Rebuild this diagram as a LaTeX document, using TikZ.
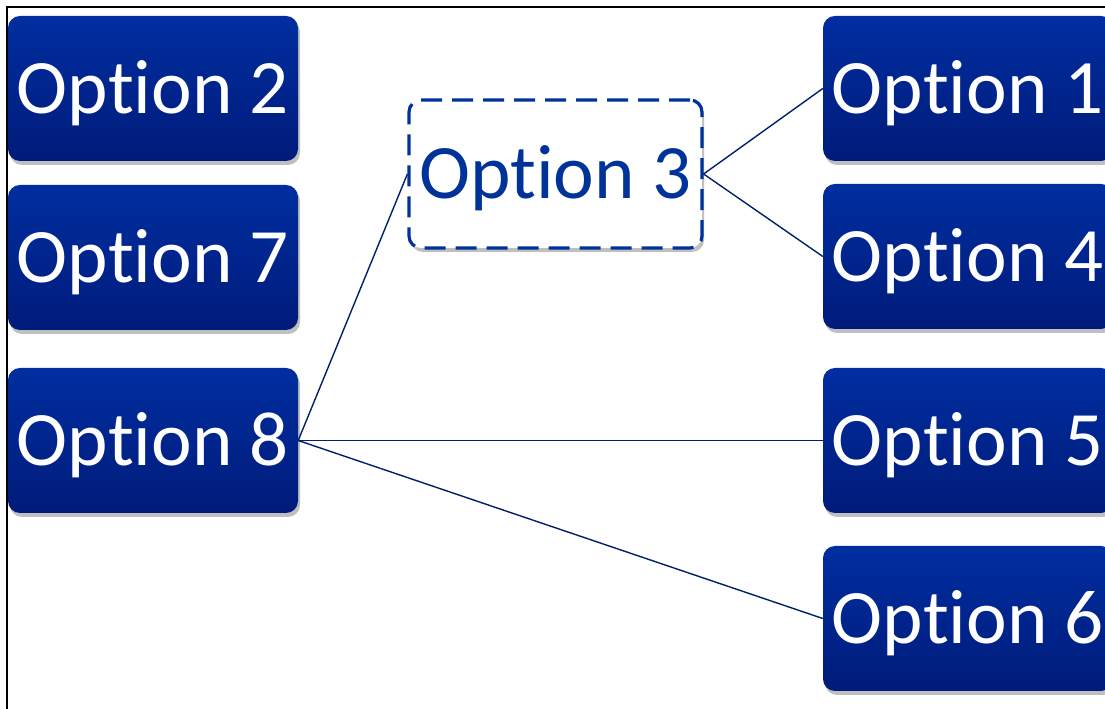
\documentclass[tikz,border=0pt]{standalone}
\usepackage{fontspec}
\setmainfont{Carlito}[RawFeature={-liga;-clig;-dlig}]
\usetikzlibrary{shadows}
\definecolor{boxtop}{RGB}{0,46,160}
\definecolor{boxbottom}{RGB}{0,27,122}
\definecolor{optblue}{RGB}{0,51,153}
\definecolor{linkblue}{RGB}{0,32,110}
\tikzset{
  optbox/.style={rounded corners=12pt, minimum width=290pt, minimum height=145pt,
    inner sep=0pt, text height=50pt, text depth=0pt,
    font=\fontsize{77}{80}\selectfont, text=white,
    top color=boxtop, bottom color=boxbottom, draw=none,
    drop shadow={shadow xshift=2pt, shadow yshift=-4pt, opacity=0.25, fill=black}},
  dashbox/.style={rounded corners=12pt, minimum width=293pt, minimum height=148pt,
    inner sep=0pt, text height=50pt, text depth=0pt,
    font=\fontsize{77}{80}\selectfont, text=optblue,
    fill=white, draw=optblue, line width=3.2pt, dash pattern=on 21pt off 10pt,
    drop shadow={shadow xshift=2pt, shadow yshift=-4pt, opacity=0.25, fill=black}},
  link/.style={draw=linkblue, line width=1.4pt}
}
\begin{document}
\begin{tikzpicture}[x=1pt,y=1pt]
  \useasboundingbox (0,0) rectangle (1105,709);
  \clip (0,0) rectangle (1105,709);
  \fill[white] (0,0) rectangle (1105,709);
  % outer frame
  \draw[line width=2pt] (6.5,-20) -- (6.5,702) -- (1130,702);
  % left column
  \node[optbox] (o2) at (153,620.5) {Option 2};
  \node[optbox] (o7) at (153,451.5) {Option 7};
  \node[optbox] (o8) at (153,268.5) {Option 8};
  % right column
  \node[optbox] (o1) at (968,620.5) {Option 1};
  \node[optbox] (o4) at (968,452.5) {Option 4};
  \node[optbox] (o5) at (968,268.5) {Option 5};
  \node[optbox] (o6) at (968,90.5) {Option 6};
  % centre
  \node[dashbox] (o3) at (555.5,535) {Option 3};
  % connectors
  \draw[link] (o3.east) -- (o1.west);
  \draw[link] (o3.east) -- (o4.west);
  \draw[link] (o8.east) -- (o3.west);
  \draw[link] (o8.east) -- (o5.west);
  \draw[link] (o8.east) -- (o6.west);
\end{tikzpicture}
\end{document}
